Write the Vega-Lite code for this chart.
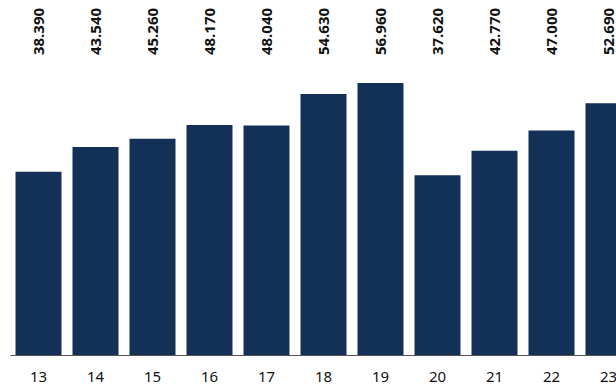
{
  "$schema": "https://vega.github.io/schema/vega-lite/v6.json",
  "width": 606,
  "height": 355,
  "autosize": {"type": "none"},
  "padding": {"left": 10, "top": 0, "right": 0, "bottom": 30},
  "background": "white",
  "data": {
    "values": [
      {"k": "13", "v": 38.39},
      {"k": "14", "v": 43.54},
      {"k": "15", "v": 45.26},
      {"k": "16", "v": 48.17},
      {"k": "17", "v": 48.04},
      {"k": "18", "v": 54.63},
      {"k": "19", "v": 56.96},
      {"k": "20", "v": 37.62},
      {"k": "21", "v": 42.77},
      {"k": "22", "v": 47.0},
      {"k": "23", "v": 52.69}
    ]
  },
  "encoding": {
    "x": {
      "field": "k",
      "type": "ordinal",
      "sort": null,
      "title": null,
      "scale": {"range": [0, 627], "paddingInner": 0.193, "paddingOuter": 0.0965},
      "axis": {
        "domainColor": "#555555",
        "domainWidth": 1,
        "ticks": false,
        "labelAngle": 0,
        "labelFont": "Noto Sans",
        "labelFontSize": 15,
        "labelColor": "#111111",
        "labelPadding": 14,
        "labelBaseline": "top"
      }
    }
  },
  "layer": [
    {
      "mark": {"type": "bar", "color": "#133156", "clip": true},
      "encoding": {
        "y": {
          "field": "v",
          "type": "quantitative",
          "scale": {"domain": [0, 74.33], "nice": false, "zero": true},
          "axis": null
        }
      }
    },
    {
      "mark": {
        "type": "text",
        "angle": 270,
        "align": "left",
        "baseline": "middle",
        "font": "Noto Sans",
        "fontSize": 15,
        "fontWeight": "bold",
        "color": "#111111",
        "clip": true
      },
      "encoding": {
        "y": {"datum": 62.8, "type": "quantitative"},
        "text": {"field": "v", "type": "quantitative", "format": ".3f"}
      }
    }
  ],
  "config": {"view": {"stroke": null}}
}
